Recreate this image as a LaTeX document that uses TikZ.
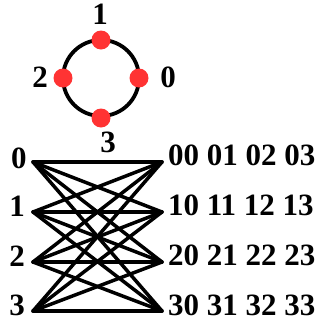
\documentclass[tikz,border=0pt]{standalone}
\usepackage{fontspec}
\setmainfont{Liberation Serif}
\begin{document}
\begin{tikzpicture}[x=1pt,y=-1pt,
  lbl/.style={font=\fontsize{31}{31}\selectfont\bfseries, inner sep=0pt},
  edge/.style={line width=3.5pt, line cap=round},
  dot/.style={circle, fill=red!80!white, draw=none, minimum size=19pt, inner sep=0pt}]
\useasboundingbox (0,0) rectangle (320,322);
% ring
\coordinate (c) at (101,78);
\draw[line width=3.8pt] (c) circle[radius=38];
\node[dot] (d1) at (101,40) {};
\node[dot] (d2) at (63,78) {};
\node[dot] (d0) at (139,78) {};
\node[dot] (d3) at (101,118) {};
\node[lbl] (t1) at (100,14) {1};
\node[lbl] (t2) at (40,77) {2};
\node[lbl] (t0) at (168,77) {0};
\node[lbl] (t3) at (108,142) {3};
% bipartite
\foreach \i/\y in {0/162,1/212,2/262,3/311}{
  \coordinate (L\i) at (33,\y);
  \coordinate (R\i) at (162,\y);
}
\foreach \i in {0,...,3}{
  \foreach \j in {0,...,3}{
    \draw[edge] (L\i) -- (R\j);
  }
}
\node[lbl] (l0) at (19,158) {0};
\node[lbl] (l1) at (17,206) {1};
\node[lbl] (l2) at (17,256) {2};
\node[lbl] (l3) at (17,305) {3};
\node[lbl, anchor=west] (r0) at (168,155) {00 01 02 03};
\node[lbl, anchor=west] (r1) at (168,205) {10 11 12 13};
\node[lbl, anchor=west] (r2) at (168,255) {20 21 22 23};
\node[lbl, anchor=west] (r3) at (168,305) {30 31 32 33};
\end{tikzpicture}
\end{document}
